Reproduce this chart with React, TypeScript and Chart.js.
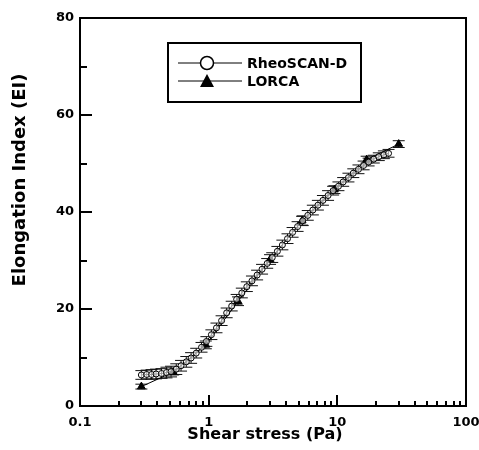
import React, { useEffect, useRef } from 'react';
import { Chart, registerables } from 'chart.js';
Chart.register(...registerables);

// RheoSCAN-D series
const rheoX = [0.30, 0.33, 0.36, 0.39, 0.43, 0.47, 0.51, 0.56, 0.61, 0.67, 0.73, 0.80, 0.88, 0.96, 1.05, 1.15, 1.26, 1.38, 1.51, 1.65, 1.81, 1.98, 2.17, 2.38, 2.60, 2.85, 3.12, 3.42, 3.74, 4.10, 4.49, 4.91, 5.38, 5.89, 6.45, 7.06, 7.73, 8.47, 9.27, 10.2, 11.1, 12.2, 13.3, 14.6, 16.0, 17.5, 19.2, 21.0, 23.0, 25.0];
const rheoEI = [6.4, 6.5, 6.5, 6.6, 6.7, 6.9, 7.1, 7.6, 8.3, 9.1, 9.9, 10.9, 12.1, 13.3, 14.7, 16.1, 17.6, 19.2, 20.6, 22.0, 23.3, 24.6, 25.8, 27.0, 28.2, 29.4, 30.6, 31.9, 33.2, 34.5, 35.8, 37.0, 38.2, 39.3, 40.4, 41.4, 42.4, 43.4, 44.4, 45.3, 46.2, 47.1, 48.0, 48.8, 49.6, 50.3, 50.9, 51.4, 51.8, 52.1];
const rheoErr = [0.9, 0.9, 1.0, 1.0, 1.0, 1.1, 1.1, 1.1, 1.1, 1.1, 1.1, 1.0, 1.0, 1.0, 1.0, 1.0, 1.0, 1.0, 1.0, 1.0, 1.0, 1.0, 1.0, 1.0, 1.0, 1.0, 1.0, 1.0, 1.0, 1.0, 1.0, 1.0, 1.0, 1.0, 1.0, 1.0, 1.0, 1.0, 0.9, 0.9, 0.9, 0.9, 0.9, 0.9, 0.9, 0.8, 0.8, 0.8, 0.8, 0.8];

// LORCA series
const lorcaX = [0.3, 0.53, 0.95, 1.69, 3.0, 5.33, 9.49, 16.9, 30.0];
const lorcaEI = [4.0, 7.0, 12.6, 21.6, 30.2, 38.2, 44.6, 50.8, 54.0];
const lorcaErr = [0.5, 0.6, 0.8, 0.9, 1.0, 0.9, 0.8, 0.7, 0.7];

// Axis ticks
const xTickLabels = [0.1, 1, 10, 100];
const yTicks = [0, 20, 40, 60, 80];
const yMinorTicks = [10, 30, 50, 70];

const seriesNames = ['RheoSCAN-D', 'LORCA'];
const xTitle = 'Shear stress (Pa)';
const yTitle = 'Elongation Index (EI)';

const FONT = "'DejaVu Sans', 'Liberation Sans', Arial, sans-serif";

export default function App() {
  const ref = useRef<HTMLCanvasElement>(null);

  useEffect(() => {
    if (!ref.current) return;

    const errorBars = {
      id: 'errorBars',
      beforeDatasetsDraw(chart: any) {
        const ctx = chart.ctx;
        const xs = chart.scales.x;
        const ys = chart.scales.y;
        const sets = [
          { x: rheoX, y: rheoEI, e: rheoErr },
          { x: lorcaX, y: lorcaEI, e: lorcaErr },
        ];
        ctx.save();
        ctx.strokeStyle = '#111';
        ctx.lineWidth = 1;
        sets.forEach((s) => {
          s.x.forEach((xv, i) => {
            const px = xs.getPixelForValue(xv);
            const top = ys.getPixelForValue(s.y[i] + s.e[i]);
            const bot = ys.getPixelForValue(s.y[i] - s.e[i]);
            ctx.beginPath();
            ctx.moveTo(px, top);
            ctx.lineTo(px, bot);
            ctx.moveTo(px - 6, top);
            ctx.lineTo(px + 6, top);
            ctx.moveTo(px - 6, bot);
            ctx.lineTo(px + 6, bot);
            ctx.stroke();
          });
        });
        ctx.restore();
      },
    };

    const frame = {
      id: 'frame',
      afterDraw(chart: any) {
        const ctx = chart.ctx;
        const a = chart.chartArea;
        const xs = chart.scales.x;
        const ys = chart.scales.y;
        ctx.save();
        ctx.strokeStyle = '#000';
        ctx.lineWidth = 2;
        ctx.strokeRect(a.left, a.top, a.right - a.left, a.bottom - a.top);
        // inward x ticks (log)
        ctx.beginPath();
        for (let d = 0; d < xTickLabels.length - 1; d++) {
          const base = xTickLabels[d];
          for (let m = 1; m <= 9; m++) {
            const v = base * m;
            const px = Math.round(xs.getPixelForValue(v));
            const len = m === 1 ? 11 : 5;
            ctx.moveTo(px, a.bottom);
            ctx.lineTo(px, a.bottom - len);
          }
        }
        // inward y ticks
        yTicks.forEach((v) => {
          const py = Math.round(ys.getPixelForValue(v));
          ctx.moveTo(a.left, py);
          ctx.lineTo(a.left + 12, py);
        });
        yMinorTicks.forEach((v) => {
          const py = Math.round(ys.getPixelForValue(v));
          ctx.moveTo(a.left, py);
          ctx.lineTo(a.left + 7, py);
        });
        ctx.stroke();

        // axis titles
        ctx.fillStyle = '#000';
        ctx.textAlign = 'center';
        ctx.textBaseline = 'middle';
        ctx.font = `bold 16px ${FONT}`;
        ctx.fillText(xTitle, 265, 435);
        ctx.save();
        ctx.translate(20, 180);
        ctx.rotate(-Math.PI / 2);
        ctx.font = `bold 18px ${FONT}`;
        ctx.fillText(yTitle, 0, 0);
        ctx.restore();

        // legend box
        const bx = 168, by = 43, bw = 193, bh = 59;
        ctx.fillStyle = '#fff';
        ctx.fillRect(bx, by, bw, bh);
        ctx.lineWidth = 2;
        ctx.strokeRect(bx, by, bw, bh);
        ctx.lineWidth = 1;
        const rows = [63, 81];
        rows.forEach((ry) => {
          ctx.beginPath();
          ctx.moveTo(178, ry);
          ctx.lineTo(242, ry);
          ctx.stroke();
        });
        ctx.beginPath();
        ctx.arc(207, rows[0], 6.5, 0, Math.PI * 2);
        ctx.fillStyle = '#fff';
        ctx.fill();
        ctx.lineWidth = 1.5;
        ctx.stroke();
        ctx.beginPath();
        ctx.moveTo(207, rows[1] - 7);
        ctx.lineTo(214, rows[1] + 6);
        ctx.lineTo(200, rows[1] + 6);
        ctx.closePath();
        ctx.fillStyle = '#000';
        ctx.fill();
        ctx.font = `bold 14px ${FONT}`;
        ctx.textBaseline = 'middle';
        ctx.textAlign = 'left';
        ctx.fillText(seriesNames[0], 247, rows[0] + 1);
        ctx.fillText(seriesNames[1], 247, rows[1] + 1);
        ctx.restore();
      },
    };

    const chart = new Chart(ref.current, {
      type: 'line',
      data: {
        datasets: [
          {
            label: seriesNames[0],
            data: rheoX.map((x, i) => ({ x, y: rheoEI[i] })),
            borderColor: '#000',
            borderWidth: 1,
            pointStyle: 'circle',
            pointRadius: 3,
            pointBorderWidth: 1,
            pointBorderColor: '#000',
            pointBackgroundColor: 'rgba(255,255,255,0.6)',
            tension: 0,
          },
          {
            label: seriesNames[1],
            data: lorcaX.map((x, i) => ({ x, y: lorcaEI[i] })),
            borderColor: '#000',
            borderWidth: 1,
            pointStyle: 'triangle',
            pointRadius: 4.5,
            pointBorderWidth: 1,
            pointBorderColor: '#000',
            pointBackgroundColor: '#000',
            tension: 0,
          },
        ],
      },
      options: {
        animation: false,
        responsive: false,
        maintainAspectRatio: false,
        layout: { padding: { top: 18, right: 13, bottom: 0, left: 0 } },
        plugins: { legend: { display: false }, tooltip: { enabled: false } },
        scales: {
          x: {
            type: 'logarithmic',
            min: 0.1,
            max: 100,
            afterBuildTicks: (s: any) => {
              s.ticks = xTickLabels.map((v) => ({ value: v }));
            },
            afterFit: (s: any) => {
              s.height = 44;
              s.paddingRight = 0;
              s.paddingLeft = 0;
            },
            grid: { display: false, drawTicks: false },
            border: { display: true, color: '#000', width: 2 },
            ticks: {
              autoSkip: false,
              maxRotation: 0,
              padding: 9,
              color: '#000',
              font: { family: FONT, size: 13, weight: 'bold' },
              callback: (v: any) => String(Number(v)),
            },
            title: { display: false },
          },
          y: {
            min: 0,
            max: 80,
            afterBuildTicks: (s: any) => {
              s.ticks = yTicks.map((v) => ({ value: v }));
            },
            afterFit: (s: any) => {
              s.width = 80;
            },
            grid: { display: false, drawTicks: false },
            border: { display: true, color: '#000', width: 2 },
            ticks: {
              padding: 6,
              color: '#000',
              font: { family: FONT, size: 13, weight: 'bold' },
            },
            title: { display: false },
          },
        },
      },
      plugins: [errorBars, frame],
    });

    return () => chart.destroy();
  }, []);

  return (
    <div style={{ position: 'fixed', left: 0, top: 0, width: 479, height: 450, background: '#fff' }}>
      <canvas ref={ref} width={479} height={450} style={{ width: 479, height: 450 }} />
    </div>
  );
}
